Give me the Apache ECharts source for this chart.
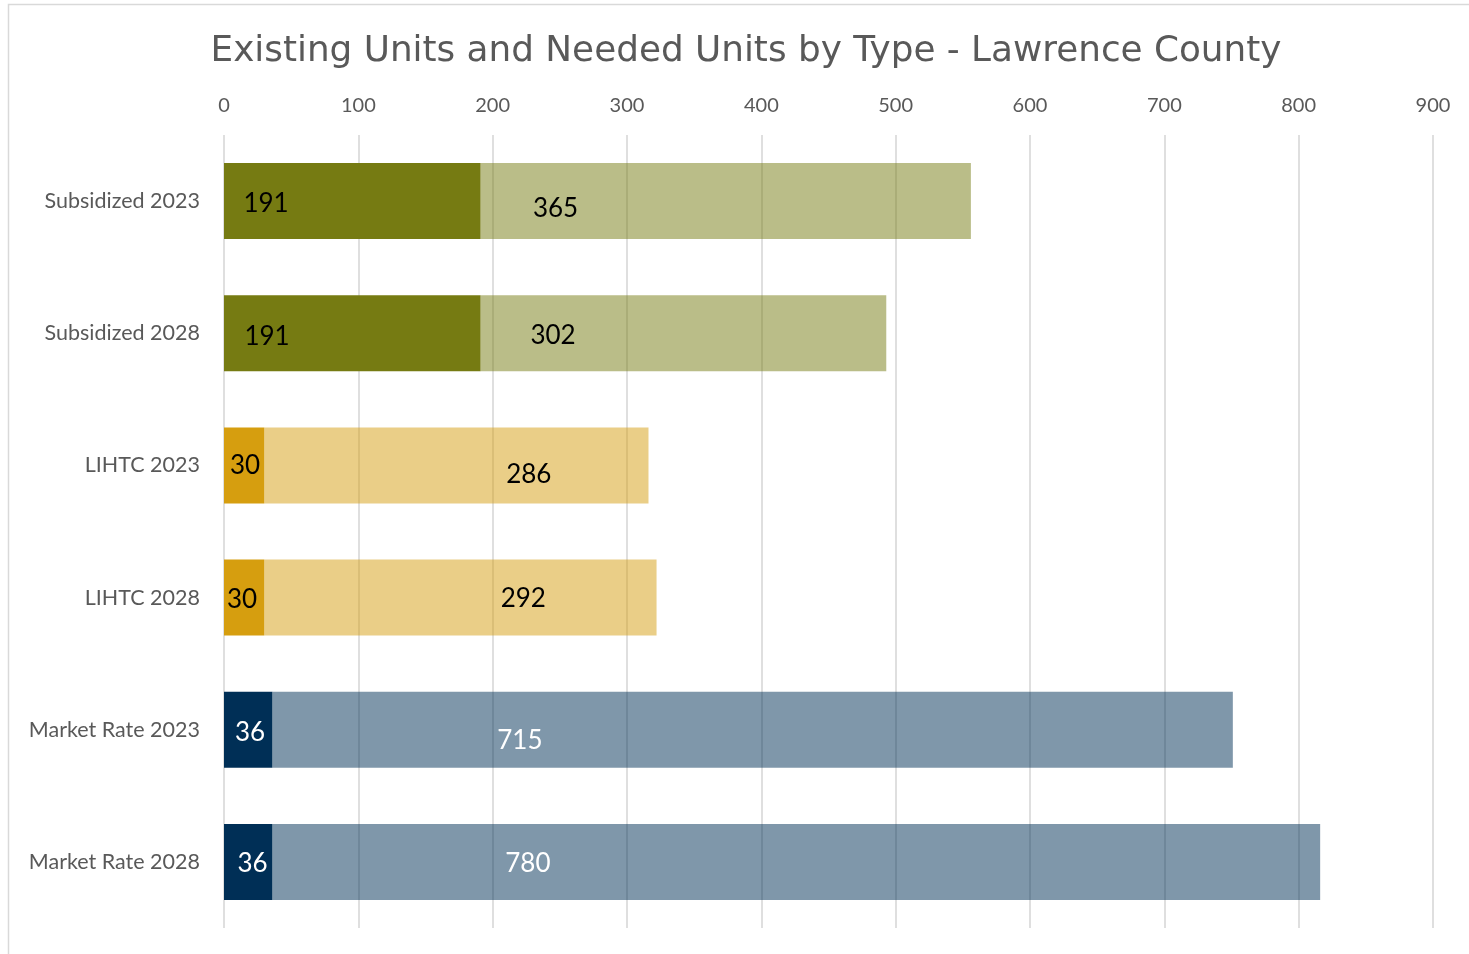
<!DOCTYPE html>
<html>
<head>
<meta charset="utf-8">
<script src="https://cdn.jsdelivr.net/npm/echarts@6/dist/echarts.min.js"></script>
<style>
html,body{margin:0;padding:0;background:#fff;}
#chart{width:1469px;height:954px;}
</style>
</head>
<body>
<div id="chart"></div>
<script>
// ---- data ----
var titleText = 'Existing Units and Needed Units by Type - Lawrence County';
var categories = ['Subsidized 2023', 'Subsidized 2028', 'LIHTC 2023', 'LIHTC 2028', 'Market Rate 2023', 'Market Rate 2028'];
var existingUnits = [191, 191, 30, 30, 36, 36];
var neededUnits = [365, 302, 286, 292, 715, 780];
var xTicks = [0, 100, 200, 300, 400, 500, 600, 700, 800, 900];

// ---- styles ----
var typeColors = ['#767B12', '#767B12', '#D69E0F', '#D69E0F', '#002F56', '#002F56'];
var labelColors = ['#000000', '#000000', '#000000', '#000000', '#ffffff', '#ffffff'];
// label nudges [x from segment start, y] (manual label placements of the original)
var existingNudge = [[42, 3], [43, 3], [21, 0], [18, 2.5], [26, 3], [28.5, 2]];
var neededNudge = [[75, 7.5], [72.5, 2.5], [264.5, 9.5], [259, 1], [247.5, 10.5], [255.5, 2]];

var FONT = 'Lato';
var GRAY = '#595959';

function hexToRgba(hex, a) {
  var r = parseInt(hex.substr(1, 2), 16), g = parseInt(hex.substr(3, 2), 16), b = parseInt(hex.substr(5, 2), 16);
  return 'rgba(' + r + ',' + g + ',' + b + ',' + a + ')';
}

function buildData(values, nudges, light) {
  return values.map(function (v, i) {
    return {
      value: v,
      itemStyle: { color: light ? hexToRgba(typeColors[i], 0.5) : typeColors[i] },
      label: {
        color: labelColors[i],
        offset: [nudges[i][0], nudges[i][1]]
      }
    };
  });
}

var labelBase = {
  show: true,
  position: 'insideLeft',
  distance: 0,
  align: 'center',
  fontFamily: FONT,
  fontSize: 26,
  formatter: '{c}'
};

var chart = echarts.init(document.getElementById('chart'), null, { renderer: 'canvas' });
chart.setOption({
  animation: false,
  backgroundColor: '#ffffff',
  title: {
    text: titleText,
    left: 741,
    top: 29,
    textAlign: 'center',
    textStyle: { fontFamily: 'DejaVu Sans', fontWeight: 'normal', fontSize: 35.8, color: GRAY }
  },
  graphic: [{
    type: 'rect',
    silent: true,
    shape: { x: 8.5, y: 4.5, width: 2000, height: 2000 },
    style: { fill: 'none', stroke: '#D9D9D9', lineWidth: 1.5 }
  }],
  grid: { left: 224, right: 36, top: 135, bottom: 26, containLabel: false },
  xAxis: {
    type: 'value',
    position: 'top',
    min: xTicks[0],
    max: xTicks[xTicks.length - 1],
    interval: xTicks[1] - xTicks[0],
    axisLine: { show: false },
    axisTick: { show: false },
    axisLabel: { color: GRAY, fontFamily: FONT, fontSize: 20, margin: 19 },
    splitLine: { show: true, lineStyle: { color: '#D4D4D4', width: 1.5 } }
  },
  yAxis: {
    type: 'category',
    inverse: true,
    data: categories,
    axisLine: { show: false },
    axisTick: { show: false },
    axisLabel: { color: GRAY, fontFamily: FONT, fontSize: 21.5, margin: 24 }
  },
  series: [
    {
      name: 'Existing',
      type: 'bar',
      stack: 'units',
      barWidth: 76,
      data: buildData(existingUnits, existingNudge, false),
      label: labelBase
    },
    {
      name: 'Needed',
      type: 'bar',
      stack: 'units',
      barWidth: 76,
      data: buildData(neededUnits, neededNudge, true),
      label: labelBase
    }
  ]
});
</script>
</body>
</html>
